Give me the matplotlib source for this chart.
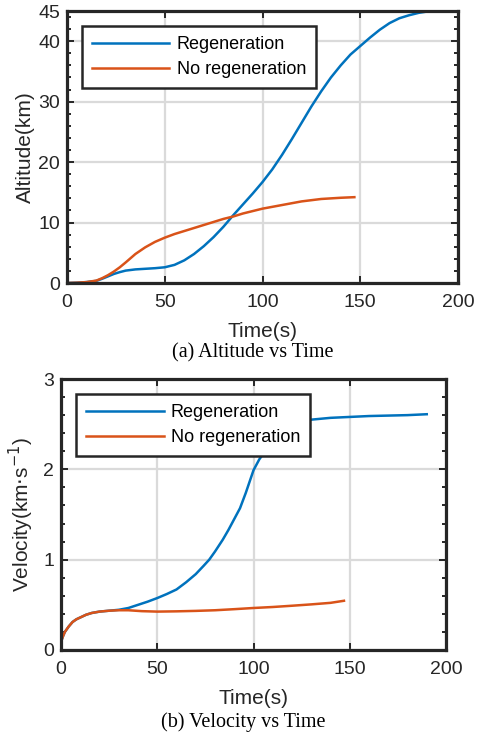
import numpy as np
import matplotlib.pyplot as plt
from matplotlib.ticker import MultipleLocator

plt.rcParams['font.family'] = ['Liberation Sans', 'DejaVu Sans']

# altitude (km) vs time (s)
t_alt_regen = [0, 5, 10, 15, 18, 21, 24, 27, 30, 35, 40, 45, 50, 55, 60, 65, 70, 75, 80, 85, 90,
               95, 100, 105, 110, 115, 120, 125, 130, 135, 140, 145, 150, 155, 160, 165, 170,
               175, 180, 185, 190]
alt_regen = [0, 0.05, 0.15, 0.35, 0.7, 1.1, 1.5, 1.8, 2.05, 2.25, 2.35, 2.45, 2.6, 3.0, 3.75,
             4.8, 6.1, 7.6, 9.3, 11.2, 13.0, 14.8, 16.7, 18.8, 21.2, 23.8, 26.5, 29.2, 31.7,
             34.0, 36.0, 37.8, 39.2, 40.6, 41.9, 43.0, 43.8, 44.3, 44.7, 44.95, 45.0]
t_alt_noregen = [0, 5, 10, 15, 18, 21, 24, 27, 30, 35, 40, 45, 50, 55, 60, 65, 70, 75, 80, 85,
                 90, 95, 100, 105, 110, 115, 120, 125, 130, 135, 140, 147]
alt_noregen = [0, 0.05, 0.15, 0.4, 0.8, 1.3, 1.9, 2.6, 3.4, 4.8, 5.9, 6.8, 7.5, 8.1, 8.6, 9.1,
               9.6, 10.1, 10.6, 11.0, 11.5, 11.9, 12.3, 12.6, 12.9, 13.2, 13.5, 13.7, 13.9,
               14.0, 14.1, 14.2]

# velocity (km/s) vs time (s)
t_vel_regen = [0, 1, 2, 4, 6, 8, 10, 13, 16, 20, 25, 30, 35, 40, 45, 50, 55, 60, 65, 70, 74, 77,
               80, 84, 87, 90, 93, 96, 100, 103, 106, 110, 115, 120, 130, 140, 150, 160, 170,
               180, 190]
vel_regen = [0.09, 0.15, 0.2, 0.26, 0.31, 0.34, 0.36, 0.39, 0.41, 0.425, 0.435, 0.445, 0.465,
             0.5, 0.535, 0.575, 0.62, 0.67, 0.75, 0.84, 0.93, 1.0, 1.09, 1.22, 1.33, 1.45,
             1.57, 1.74, 1.99, 2.11, 2.2, 2.32, 2.43, 2.5, 2.55, 2.57, 2.58, 2.59, 2.595, 2.6,
             2.61]
t_vel_noregen = [0, 1, 2, 4, 6, 8, 10, 13, 16, 20, 25, 30, 35, 42, 50, 60, 70, 80, 90, 100,
                 110, 120, 130, 140, 147]
vel_noregen = [0.09, 0.15, 0.2, 0.26, 0.31, 0.34, 0.36, 0.39, 0.41, 0.425, 0.435, 0.44, 0.44,
               0.43, 0.425, 0.428, 0.433, 0.44, 0.452, 0.465, 0.476, 0.49, 0.505, 0.522, 0.545]

labels = ['Regeneration', 'No regeneration']
blue = '#0072BD'
orange = '#D95319'
dark = '#262626'

fig = plt.figure(figsize=(4.79, 7.35), dpi=100)
ax1 = fig.add_axes([67 / 479, 1 - 283 / 735, 391 / 479, 272 / 735])
ax2 = fig.add_axes([61 / 479, 1 - 650 / 735, 385 / 479, 271 / 735])


def style(ax, ymax, ymajor, yminor):
    ax.set_xlim(0, 200)
    ax.set_ylim(0, ymax)
    ax.xaxis.set_major_locator(MultipleLocator(50))
    ax.yaxis.set_major_locator(MultipleLocator(ymajor))
    ax.yaxis.set_minor_locator(MultipleLocator(yminor))
    ax.tick_params(which='both', direction='in', top=True, right=True, color=dark,
                   labelsize=14, labelcolor=dark)
    ax.tick_params(axis='x', pad=8)
    ax.tick_params(axis='y', pad=5)
    ax.tick_params(which='major', length=5, width=1.4)
    ax.tick_params(which='minor', length=3, width=1.4)
    ax.tick_params(axis='x', which='minor', bottom=False, top=False)
    ax.grid(True, which='major', color='#dadada', linewidth=1.6)
    ax.set_axisbelow(True)
    for s in ax.spines.values():
        s.set_linewidth(2.3)
        s.set_color(dark)
    ax.set_xlabel('Time(s)', fontsize=15, color=dark, labelpad=8)


ax1.plot(t_alt_regen, alt_regen, color=blue, lw=1.8, label=labels[0])
ax1.plot(t_alt_noregen, alt_noregen, color=orange, lw=1.8, label=labels[1])
style(ax1, 45, 10, 2)
ax1.set_yticks([0, 10, 20, 30, 40, 45])
ax1.set_ylabel('Altitude(km)', fontsize=15, color=dark, labelpad=2)

ax2.plot(t_vel_regen, vel_regen, color=blue, lw=1.8, label=labels[0])
ax2.plot(t_vel_noregen, vel_noregen, color=orange, lw=1.8, label=labels[1])
style(ax2, 3, 1, 0.2)
ax2.set_ylabel('Velocity(km$\\cdot$s$^{-1}$)', fontsize=15, color=dark, labelpad=5)

for ax, anchor in ((ax1, (0.038, 0.945)), (ax2, (0.039, 0.945))):
    leg = ax.legend(loc='upper left', bbox_to_anchor=anchor, borderaxespad=0, fontsize=13,
                    fancybox=False, framealpha=1, edgecolor=dark, borderpad=0.55,
                    handlelength=4.3, labelspacing=0.45, handletextpad=0.4)
    leg.get_frame().set_linewidth(1.8)

fig.text(253 / 479, 1 - 353 / 735, '(a) Altitude vs Time', ha='center', va='center',
         fontsize=14.5, family='Liberation Serif')
fig.text(243 / 479, 1 - 722 / 735, '(b) Velocity vs Time', ha='center', va='center',
         fontsize=14.5, family='Liberation Serif')

fig.savefig('out.png', dpi=100)
